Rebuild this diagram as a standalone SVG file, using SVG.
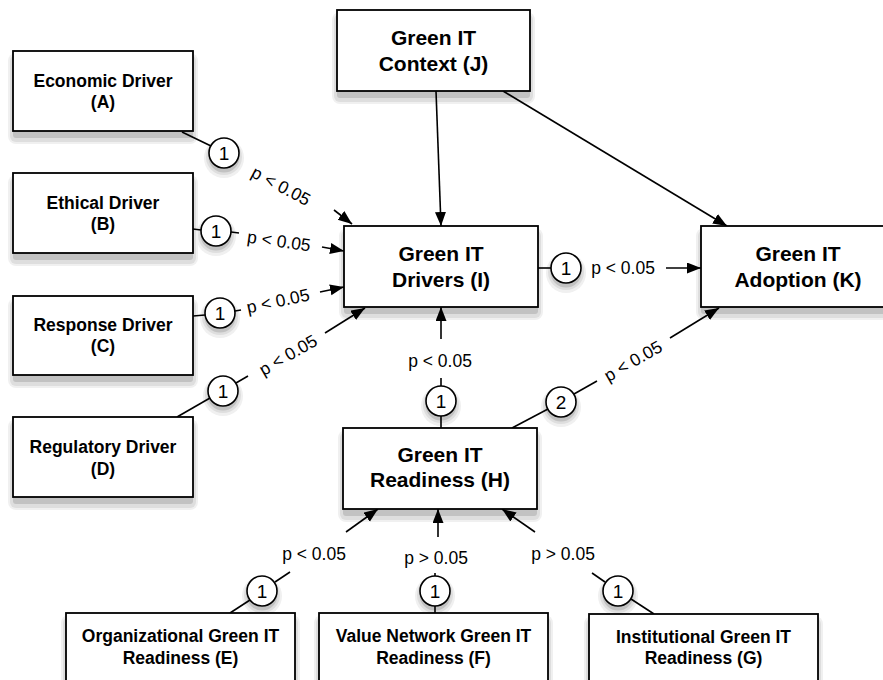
<svg xmlns="http://www.w3.org/2000/svg" width="883" height="680" viewBox="0 0 883 680">
<defs>
<marker id="ah" markerUnits="userSpaceOnUse" markerWidth="16" markerHeight="12" refX="14" refY="5.5" orient="auto">
<path d="M0,0 L14,5.5 L0,11 z" fill="#000"/>
</marker>
</defs>
<style>
.box{fill:#fff;stroke:#000;stroke-width:1.8}
.circ{fill:#fff;stroke:#000;stroke-width:1.6}
.s3{fill:#f0f0f0}
.s2{fill:#dedede}
.s1{fill:#c2c2c2}
.bt{font-family:"Liberation Sans",Arial,Helvetica,sans-serif;font-weight:bold;font-size:17.5px;text-anchor:middle;fill:#000}
.bb{font-family:"Liberation Sans",Arial,Helvetica,sans-serif;font-weight:bold;font-size:21px;text-anchor:middle;fill:#000}
.ct{font-family:"Liberation Sans",Arial,Helvetica,sans-serif;font-size:19px;text-anchor:middle;fill:#000}
.lb{font-family:"Liberation Sans",Arial,Helvetica,sans-serif;font-size:17.5px;text-anchor:middle;fill:#000}
.ln{stroke:#000;stroke-width:1.6;fill:none}
.ar{stroke:#000;stroke-width:1.6;fill:none;marker-end:url(#ah)}
</style>
<rect width="883" height="680" fill="#fff"/>

<g id="shadows">
<rect class="s3" x="8" y="53" width="190" height="91" rx="8"/><rect class="s2" x="10" y="55" width="186" height="87" rx="6"/><rect class="s1" x="13" y="57" width="180" height="81" rx="3"/>
<rect class="s3" x="8" y="175" width="190" height="91" rx="8"/><rect class="s2" x="10" y="177" width="186" height="87" rx="6"/><rect class="s1" x="13" y="179" width="180" height="81" rx="3"/>
<rect class="s3" x="8" y="298" width="190" height="90" rx="8"/><rect class="s2" x="10" y="300" width="186" height="86" rx="6"/><rect class="s1" x="13" y="302" width="180" height="80" rx="3"/>
<rect class="s3" x="8" y="419" width="190" height="91" rx="8"/><rect class="s2" x="10" y="421" width="186" height="87" rx="6"/><rect class="s1" x="13" y="423" width="180" height="81" rx="3"/>
<rect class="s3" x="332" y="12" width="203" height="92" rx="8"/><rect class="s2" x="334" y="14" width="199" height="88" rx="6"/><rect class="s1" x="337" y="16" width="193" height="82" rx="3"/>
<rect class="s3" x="339" y="228" width="204" height="92" rx="8"/><rect class="s2" x="341" y="230" width="200" height="88" rx="6"/><rect class="s1" x="344" y="232" width="194" height="82" rx="3"/>
<rect class="s3" x="696" y="228" width="204" height="92" rx="8"/><rect class="s2" x="698" y="230" width="200" height="88" rx="6"/><rect class="s1" x="701" y="232" width="194" height="82" rx="3"/>
<rect class="s3" x="338" y="430" width="204" height="92" rx="8"/><rect class="s2" x="340" y="432" width="200" height="88" rx="6"/><rect class="s1" x="343" y="434" width="194" height="82" rx="3"/>
<rect class="s3" x="61" y="615" width="239" height="91" rx="8"/><rect class="s2" x="63" y="617" width="235" height="87" rx="6"/><rect class="s1" x="66" y="619" width="229" height="81" rx="3"/>
<rect class="s3" x="314" y="615" width="239" height="91" rx="8"/><rect class="s2" x="316" y="617" width="235" height="87" rx="6"/><rect class="s1" x="319" y="619" width="229" height="81" rx="3"/>
<rect class="s3" x="584" y="616" width="239" height="91" rx="8"/><rect class="s2" x="586" y="618" width="235" height="87" rx="6"/><rect class="s1" x="589" y="620" width="229" height="81" rx="3"/>
<circle class="s3" cx="224" cy="158" r="20"/><circle class="s2" cx="224" cy="157" r="18"/><circle class="s1" cx="224" cy="157" r="15.5"/>
<circle class="s3" cx="216" cy="236" r="20"/><circle class="s2" cx="216" cy="235" r="18"/><circle class="s1" cx="216" cy="235" r="15.5"/>
<circle class="s3" cx="220" cy="318" r="20"/><circle class="s2" cx="220" cy="317" r="18"/><circle class="s1" cx="220" cy="317" r="15.5"/>
<circle class="s3" cx="223" cy="396" r="20"/><circle class="s2" cx="223" cy="395" r="18"/><circle class="s1" cx="223" cy="395" r="15.5"/>
<circle class="s3" cx="566" cy="273" r="20"/><circle class="s2" cx="566" cy="272" r="18"/><circle class="s1" cx="566" cy="272" r="15.5"/>
<circle class="s3" cx="441" cy="406" r="20"/><circle class="s2" cx="441" cy="405" r="18"/><circle class="s1" cx="441" cy="405" r="15.5"/>
<circle class="s3" cx="561" cy="407" r="20"/><circle class="s2" cx="561" cy="406" r="18"/><circle class="s1" cx="561" cy="406" r="15.5"/>
<circle class="s3" cx="262" cy="596" r="20"/><circle class="s2" cx="262" cy="595" r="18"/><circle class="s1" cx="262" cy="595" r="15.5"/>
<circle class="s3" cx="435" cy="596" r="20"/><circle class="s2" cx="435" cy="595" r="18"/><circle class="s1" cx="435" cy="595" r="15.5"/>
<circle class="s3" cx="618" cy="596" r="20"/><circle class="s2" cx="618" cy="595" r="18"/><circle class="s1" cx="618" cy="595" r="15.5"/>
</g>

<g id="connectors">
<line class="ln" x1="182" y1="132" x2="211" y2="146"/>
<line class="ar" x1="334" y1="210" x2="352" y2="224"/>
<g transform="translate(281,186) rotate(28)"><text class="lb" x="0" y="6">p &lt; 0.05</text></g>
<line class="ln" x1="193" y1="229" x2="201" y2="230"/>
<line class="ln" x1="231" y1="232" x2="239" y2="233"/>
<line class="ar" x1="322" y1="247" x2="344" y2="251"/>
<g transform="translate(279,241) rotate(8)"><text class="lb" x="0" y="6">p &lt; 0.05</text></g>
<line class="ln" x1="193" y1="316" x2="205" y2="315"/>
<line class="ln" x1="235" y1="311" x2="241" y2="310"/>
<line class="ar" x1="320" y1="292" x2="344" y2="287"/>
<g transform="translate(278,301) rotate(-12)"><text class="lb" x="0" y="6">p &lt; 0.05</text></g>
<line class="ln" x1="177" y1="417" x2="210" y2="398"/>
<line class="ln" x1="236" y1="383" x2="248" y2="376"/>
<line class="ar" x1="325" y1="333" x2="365" y2="308"/>
<g transform="translate(288,355) rotate(-30)"><text class="lb" x="0" y="6">p &lt; 0.05</text></g>
<line class="ar" x1="436" y1="91" x2="441" y2="226"/>
<line class="ar" x1="503" y1="91" x2="727" y2="226"/>
<line class="ln" x1="538" y1="268" x2="551" y2="268"/>
<line class="ar" x1="666" y1="268" x2="701" y2="268"/>
<text class="lb" x="623" y="274">p &lt; 0.05</text>
<line class="ln" x1="441" y1="428" x2="441" y2="416"/>
<line class="ln" x1="441" y1="386" x2="441" y2="378"/>
<line class="ar" x1="441" y1="339" x2="441" y2="307"/>
<text class="lb" x="440" y="367">p &lt; 0.05</text>
<line class="ln" x1="512" y1="428" x2="548" y2="409"/>
<line class="ln" x1="574" y1="394" x2="597" y2="381"/>
<line class="ar" x1="670" y1="338" x2="719" y2="308"/>
<g transform="translate(633,361) rotate(-30)"><text class="lb" x="0" y="6">p &lt; 0.05</text></g>
<line class="ln" x1="230" y1="613" x2="250" y2="600"/>
<line class="ln" x1="275" y1="582" x2="290" y2="572"/>
<line class="ar" x1="346" y1="532" x2="378" y2="509"/>
<text class="lb" x="314" y="560">p &lt; 0.05</text>
<line class="ln" x1="435" y1="613" x2="435" y2="606"/>
<line class="ln" x1="435" y1="576" x2="435" y2="573"/>
<line class="ar" x1="438" y1="537" x2="438" y2="509"/>
<text class="lb" x="436" y="564">p &gt; 0.05</text>
<line class="ln" x1="654" y1="614" x2="631" y2="599"/>
<line class="ln" x1="605" y1="582" x2="592" y2="573"/>
<line class="ar" x1="535" y1="532" x2="502" y2="509"/>
<text class="lb" x="563" y="560">p &gt; 0.05</text>
</g>

<g id="circles">
<circle class="circ" cx="224" cy="153" r="15"/><text class="ct" x="224" y="160">1</text>
<circle class="circ" cx="216" cy="231" r="15"/><text class="ct" x="216" y="238">1</text>
<circle class="circ" cx="220" cy="313" r="15"/><text class="ct" x="220" y="320">1</text>
<circle class="circ" cx="223" cy="391" r="15"/><text class="ct" x="223" y="398">1</text>
<circle class="circ" cx="566" cy="268" r="15"/><text class="ct" x="566" y="275">1</text>
<circle class="circ" cx="441" cy="401" r="15"/><text class="ct" x="441" y="408">1</text>
<circle class="circ" cx="561" cy="402" r="15"/><text class="ct" x="561" y="409">2</text>
<circle class="circ" cx="262" cy="591" r="15"/><text class="ct" x="262" y="598">1</text>
<circle class="circ" cx="435" cy="591" r="15"/><text class="ct" x="435" y="598">1</text>
<circle class="circ" cx="618" cy="591" r="15"/><text class="ct" x="618" y="598">1</text>
</g>

<g id="nodeA"><rect class="box" x="13" y="51" width="180" height="80"/><text class="bt" x="103" y="87">Economic Driver</text><text class="bt" x="103" y="108">(A)</text></g>
<g id="nodeB"><rect class="box" x="13" y="173" width="180" height="80"/><text class="bt" x="103" y="209">Ethical Driver</text><text class="bt" x="103" y="230">(B)</text></g>
<g id="nodeC"><rect class="box" x="13" y="296" width="180" height="79"/><text class="bt" x="103" y="331">Response Driver</text><text class="bt" x="103" y="352">(C)</text></g>
<g id="nodeD"><rect class="box" x="13" y="417" width="180" height="80"/><text class="bt" x="103" y="453">Regulatory Driver</text><text class="bt" x="103" y="475">(D)</text></g>
<g id="nodeJ"><rect class="box" x="337" y="10" width="193" height="81"/><text class="bb" x="433.5" y="45">Green IT</text><text class="bb" x="433.5" y="71">Context (J)</text></g>
<g id="nodeI"><rect class="box" x="344" y="226" width="194" height="81"/><text class="bb" x="441" y="261">Green IT</text><text class="bb" x="441" y="287">Drivers (I)</text></g>
<g id="nodeK"><rect class="box" x="701" y="226" width="194" height="81"/><text class="bb" x="798" y="261">Green IT</text><text class="bb" x="798" y="287">Adoption (K)</text></g>
<g id="nodeH"><rect class="box" x="343" y="428" width="194" height="81"/><text class="bb" x="440" y="462">Green IT</text><text class="bb" x="440" y="487">Readiness (H)</text></g>
<g id="nodeE"><rect class="box" x="66" y="613" width="229" height="80"/><text class="bt" x="180.5" y="642">Organizational Green IT</text><text class="bt" x="180.5" y="664">Readiness (E)</text></g>
<g id="nodeF"><rect class="box" x="319" y="613" width="229" height="80"/><text class="bt" x="433.5" y="642">Value Network Green IT</text><text class="bt" x="433.5" y="664">Readiness (F)</text></g>
<g id="nodeG"><rect class="box" x="589" y="614" width="229" height="80"/><text class="bt" x="703.5" y="643">Institutional Green IT</text><text class="bt" x="703.5" y="664">Readiness (G)</text></g>
</svg>
